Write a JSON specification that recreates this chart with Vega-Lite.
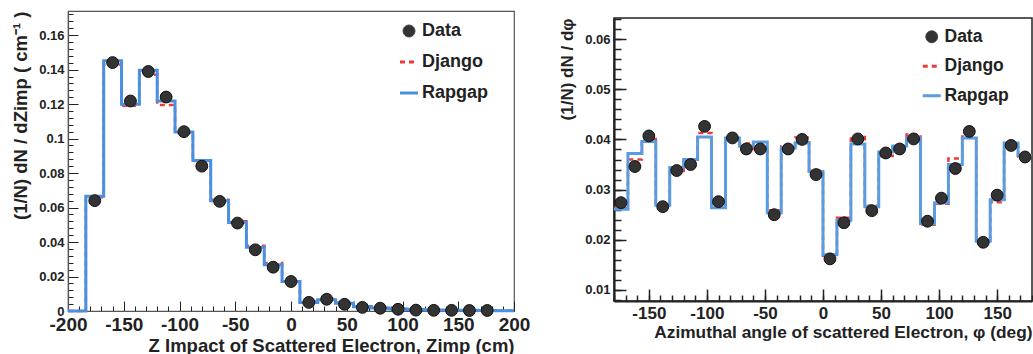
{
  "$schema": "https://vega.github.io/schema/vega-lite/v6.json",
  "padding": {"left": 11, "top": 10, "right": 0, "bottom": 0},
  "config": {
    "font": "Liberation Sans",
    "axis": {"grid": false, "ticks": true, "labelFontWeight": "bold", "titleFontWeight": "bold", "labelColor": "#222", "titleColor": "#222", "domainColor": "#222", "tickColor": "#222", "labelOverlap": false, "labelFlush": false, "labelFont": "Liberation Sans", "titleFont": "Liberation Sans", "zindex": 1},
    "legend": {"labelFont": "Liberation Sans"}
  },
  "spacing": 26,
  "resolve": {"scale": {"color": "independent"}, "legend": {"color": "independent"}},
  "hconcat": [
    {
      "width": 446,
      "height": 300,
      "view": {"stroke": "#555", "strokeWidth": 1.2},
      "resolve": {"axis": {"x": "independent", "y": "independent"}},
      "data": {"values": [
        {"lo": -200, "mid": -192, "Data": null, "Django": 0, "Rapgap": 0},
        {"lo": -184, "mid": -176, "Data": 0.0640, "Django": 0.0660, "Rapgap": 0.0665},
        {"lo": -168, "mid": -160, "Data": 0.1441, "Django": 0.1430, "Rapgap": 0.1451},
        {"lo": -152, "mid": -144, "Data": 0.1218, "Django": 0.1190, "Rapgap": 0.1199},
        {"lo": -136, "mid": -128, "Data": 0.1389, "Django": 0.1370, "Rapgap": 0.1396},
        {"lo": -120, "mid": -112, "Data": 0.1241, "Django": 0.1195, "Rapgap": 0.1218},
        {"lo": -104, "mid": -96, "Data": 0.1040, "Django": 0.1035, "Rapgap": 0.1038},
        {"lo": -88, "mid": -80, "Data": 0.0840, "Django": 0.0870, "Rapgap": 0.0873},
        {"lo": -72, "mid": -64, "Data": 0.0636, "Django": 0.0645, "Rapgap": 0.0640},
        {"lo": -56, "mid": -48, "Data": 0.0510, "Django": 0.0520, "Rapgap": 0.0514},
        {"lo": -40, "mid": -32, "Data": 0.0355, "Django": 0.0378, "Rapgap": 0.0370},
        {"lo": -24, "mid": -16, "Data": 0.0254, "Django": 0.0278, "Rapgap": 0.0268},
        {"lo": -8, "mid": 0, "Data": 0.0171, "Django": 0.0172, "Rapgap": 0.0171},
        {"lo": 8, "mid": 16, "Data": 0.0050, "Django": 0.0055, "Rapgap": 0.0050},
        {"lo": 24, "mid": 32, "Data": 0.0068, "Django": 0.0070, "Rapgap": 0.0065},
        {"lo": 40, "mid": 48, "Data": 0.0039, "Django": 0.0048, "Rapgap": 0.0045},
        {"lo": 56, "mid": 64, "Data": 0.0021, "Django": 0.0028, "Rapgap": 0.0025},
        {"lo": 72, "mid": 80, "Data": 0.0016, "Django": 0.0018, "Rapgap": 0.0018},
        {"lo": 88, "mid": 96, "Data": 0.0010, "Django": 0.0013, "Rapgap": 0.0012},
        {"lo": 104, "mid": 112, "Data": 0.0005, "Django": 0.0009, "Rapgap": 0.0008},
        {"lo": 120, "mid": 128, "Data": 0.0004, "Django": 0.0006, "Rapgap": 0.0006},
        {"lo": 136, "mid": 144, "Data": 0.0004, "Django": 0.0005, "Rapgap": 0.0005},
        {"lo": 152, "mid": 160, "Data": 0.0003, "Django": 0.0004, "Rapgap": 0.0004},
        {"lo": 168, "mid": 176, "Data": 0.0003, "Django": 0.0003, "Rapgap": 0.0003},
        {"lo": 184, "mid": 192, "Data": null, "Django": 0.0002, "Rapgap": 0.0002},
        {"lo": 200, "mid": null, "Data": null, "Django": 0.0002, "Rapgap": 0.0002}
      ]},
      "layer": [
        {"mark": {"type": "line", "interpolate": "step-after", "strokeDash": [5, 4], "strokeWidth": 2.5},
         "encoding": {
           "x": {"field": "lo", "type": "quantitative", "scale": {"domain": [-200, 200], "nice": false, "zero": false},
             "axis": {"orient": "bottom", "title": null, "labels": false, "domain": false, "tickSize": -5, "tickWidth": 1,
               "values": [-200,-190,-180,-170,-160,-150,-140,-130,-120,-110,-100,-90,-80,-70,-60,-50,-40,-30,-20,-10,0,10,20,30,40,50,60,70,80,90,100,110,120,130,140,150,160,170,180,190,200]}},
           "y": {"field": "Django", "type": "quantitative", "scale": {"domain": [0, 0.174], "nice": false, "zero": false},
             "axis": {"orient": "left", "title": null, "labels": false, "domain": false, "tickSize": -5, "tickWidth": 1,
               "values": [0,0.004,0.008,0.012,0.016,0.02,0.024,0.028,0.032,0.036,0.04,0.044,0.048,0.052,0.056,0.06,0.064,0.068,0.072,0.076,0.08,0.084,0.088,0.092,0.096,0.1,0.104,0.108,0.112,0.116,0.12,0.124,0.128,0.132,0.136,0.14,0.144,0.148,0.152,0.156,0.16,0.164,0.168,0.172]}},
           "color": {"datum": "Django", "type": "nominal", "scale": {"domain": ["Data", "Django", "Rapgap"], "range": ["#333333", "#f03a3a", "#4a90e2"]},
             "legend": {"orient": "none", "legendX": 332, "legendY": 11, "title": null, "padding": 0, "labelFontSize": 18, "labelFontWeight": "bold", "labelColor": "#222", "rowPadding": 13, "labelOffset": 4,
               "encode": {"symbols": {"update": {
                 "shape": {"signal": "datum.value === 'Data' ? 'circle' : 'stroke'"},
                 "size": {"signal": "datum.value === 'Data' ? 140 : 324"},
                 "fill": {"signal": "datum.value === 'Data' ? '#333333' : 'transparent'"},
                 "stroke": {"signal": "datum.value === 'Data' ? '#111111' : (datum.value === 'Django' ? '#f03a3a' : '#4a90e2')"},
                 "strokeWidth": {"signal": "datum.value === 'Data' ? 1 : 3"},
                 "strokeDash": {"signal": "datum.value === 'Django' ? [5, 4] : [1, 0]"},
                 "opacity": {"value": 1}
               }}}
             }}}},
        {"mark": {"type": "line", "interpolate": "step-after", "strokeWidth": 3},
         "encoding": {
           "x": {"field": "lo", "type": "quantitative",
             "axis": {"orient": "bottom", "title": "Z Impact of Scattered Electron, Zimp (cm)", "titleFontSize": 18.5, "titleAnchor": "end", "titlePadding": 2,
               "values": [-200, -150, -100, -50, 0, 50, 100, 150, 200], "labelExpr": "'' + datum.value",
               "labelFontSize": 19, "labelPadding": 14, "domainWidth": 1.2, "domainColor": "#555", "tickSize": -10, "tickWidth": 1}},
           "y": {"field": "Rapgap", "type": "quantitative",
             "axis": {"orient": "left", "title": "(1/N) dN / dZimp ( cm⁻¹ )", "titleFontSize": 18.5, "titleAnchor": "end", "titlePadding": 8,
               "values": [0, 0.02, 0.04, 0.06, 0.08, 0.1, 0.12, 0.14, 0.16], "labelExpr": "format(datum.value, '~g')",
               "labelFontSize": 13, "labelPadding": 14, "domainWidth": 1.2, "domainColor": "#555", "tickSize": -10, "tickWidth": 1}},
           "color": {"datum": "Rapgap"}}},
        {"mark": {"type": "point", "filled": true, "size": 140, "opacity": 1, "stroke": "#111", "strokeWidth": 1},
         "transform": [{"filter": "datum.Data != null && datum.mid != null"}],
         "encoding": {"x": {"field": "mid", "type": "quantitative", "axis": null}, "y": {"field": "Data", "type": "quantitative", "axis": null}, "color": {"datum": "Data"}}}
      ]
    },
    {
      "spacing": 5,
      "resolve": {"scale": {"color": "independent"}, "legend": {"color": "independent"}},
      "vconcat": [
        {"width": 418, "height": 1, "view": {"stroke": null}, "data": {"values": []}, "mark": {"type": "point"}},
        {
          "width": 418,
          "height": 283,
          "view": {"stroke": "#222", "strokeWidth": 1.5},
          "resolve": {"axis": {"x": "independent", "y": "independent"}},
          "data": {"values": [
            {"lo": -180, "mid": -174, "Data": 0.0274, "Django": 0.0263, "Rapgap": 0.0261},
            {"lo": -168, "mid": -162, "Data": 0.0346, "Django": 0.0360, "Rapgap": 0.0372},
            {"lo": -156, "mid": -150, "Data": 0.0407, "Django": 0.0401, "Rapgap": 0.0396},
            {"lo": -144, "mid": -138, "Data": 0.0266, "Django": 0.0273, "Rapgap": 0.0269},
            {"lo": -132, "mid": -126, "Data": 0.0338, "Django": 0.0337, "Rapgap": 0.0344},
            {"lo": -120, "mid": -114, "Data": 0.0350, "Django": 0.0356, "Rapgap": 0.0360},
            {"lo": -108, "mid": -102, "Data": 0.0426, "Django": 0.0413, "Rapgap": 0.0405},
            {"lo": -96, "mid": -90, "Data": 0.0276, "Django": 0.0268, "Rapgap": 0.0264},
            {"lo": -84, "mid": -78, "Data": 0.0403, "Django": 0.0399, "Rapgap": 0.0403},
            {"lo": -72, "mid": -66, "Data": 0.0381, "Django": 0.0392, "Rapgap": 0.0387},
            {"lo": -60, "mid": -54, "Data": 0.0381, "Django": 0.0381, "Rapgap": 0.0395},
            {"lo": -48, "mid": -42, "Data": 0.0250, "Django": 0.0259, "Rapgap": 0.0254},
            {"lo": -36, "mid": -30, "Data": 0.0381, "Django": 0.0386, "Rapgap": 0.0383},
            {"lo": -24, "mid": -18, "Data": 0.0400, "Django": 0.0404, "Rapgap": 0.0393},
            {"lo": -12, "mid": -6, "Data": 0.0330, "Django": 0.0338, "Rapgap": 0.0336},
            {"lo": 0, "mid": 6, "Data": 0.0162, "Django": 0.0168, "Rapgap": 0.0170},
            {"lo": 12, "mid": 18, "Data": 0.0234, "Django": 0.0244, "Rapgap": 0.0239},
            {"lo": 24, "mid": 30, "Data": 0.0401, "Django": 0.0405, "Rapgap": 0.0391},
            {"lo": 36, "mid": 42, "Data": 0.0258, "Django": 0.0268, "Rapgap": 0.0266},
            {"lo": 48, "mid": 54, "Data": 0.0373, "Django": 0.0367, "Rapgap": 0.0375},
            {"lo": 60, "mid": 66, "Data": 0.0381, "Django": 0.0384, "Rapgap": 0.0387},
            {"lo": 72, "mid": 78, "Data": 0.0401, "Django": 0.0410, "Rapgap": 0.0403},
            {"lo": 84, "mid": 90, "Data": 0.0237, "Django": 0.0230, "Rapgap": 0.0232},
            {"lo": 96, "mid": 102, "Data": 0.0283, "Django": 0.0272, "Rapgap": 0.0274},
            {"lo": 108, "mid": 114, "Data": 0.0342, "Django": 0.0362, "Rapgap": 0.0350},
            {"lo": 120, "mid": 126, "Data": 0.0416, "Django": 0.0406, "Rapgap": 0.0403},
            {"lo": 132, "mid": 138, "Data": 0.0195, "Django": 0.0199, "Rapgap": 0.0197},
            {"lo": 144, "mid": 150, "Data": 0.0289, "Django": 0.0275, "Rapgap": 0.0280},
            {"lo": 156, "mid": 162, "Data": 0.0388, "Django": 0.0385, "Rapgap": 0.0393},
            {"lo": 168, "mid": 174, "Data": 0.0365, "Django": 0.0366, "Rapgap": 0.0368},
            {"lo": 180, "mid": null, "Data": null, "Django": 0.0366, "Rapgap": 0.0368}
          ]},
          "layer": [
            {"mark": {"type": "line", "interpolate": "step-after", "strokeDash": [5, 4], "strokeWidth": 2.5},
             "encoding": {
               "x": {"field": "lo", "type": "quantitative", "scale": {"domain": [-180, 180], "nice": false, "zero": false},
                 "axis": {"orient": "bottom", "title": null, "labels": false, "domain": false, "tickSize": -6, "tickWidth": 1.5,
                   "values": [-180,-170,-160,-150,-140,-130,-120,-110,-100,-90,-80,-70,-60,-50,-40,-30,-20,-10,0,10,20,30,40,50,60,70,80,90,100,110,120,130,140,150,160,170,180]}},
               "y": {"field": "Django", "type": "quantitative", "scale": {"domain": [0.0078, 0.0642], "nice": false, "zero": false},
                 "axis": {"orient": "left", "title": null, "labels": false, "domain": false, "tickSize": -7, "tickWidth": 1.5,
                   "values": [0.008,0.01,0.012,0.014,0.016,0.018,0.02,0.022,0.024,0.026,0.028,0.03,0.032,0.034,0.036,0.038,0.04,0.042,0.044,0.046,0.048,0.05,0.052,0.054,0.056,0.058,0.06,0.062,0.064]}},
               "color": {"datum": "Django", "type": "nominal", "scale": {"domain": ["Data", "Django", "Rapgap"], "range": ["#333333", "#f03a3a", "#5b9be0"]},
                 "legend": {"orient": "none", "legendX": 309, "legendY": 10, "title": null, "padding": 0, "labelFontSize": 17.5, "labelFontWeight": "bold", "labelColor": "#222", "rowPadding": 10.5, "labelOffset": 4,
                   "encode": {"symbols": {"update": {
                     "shape": {"signal": "datum.value === 'Data' ? 'circle' : 'stroke'"},
                     "size": {"signal": "datum.value === 'Data' ? 140 : 324"},
                     "fill": {"signal": "datum.value === 'Data' ? '#333333' : 'transparent'"},
                     "stroke": {"signal": "datum.value === 'Data' ? '#111111' : (datum.value === 'Django' ? '#f03a3a' : '#5b9be0')"},
                     "strokeWidth": {"signal": "datum.value === 'Data' ? 1 : 3"},
                     "strokeDash": {"signal": "datum.value === 'Django' ? [5, 4] : [1, 0]"},
                     "opacity": {"value": 1}
                   }}}
                 }}}},
            {"mark": {"type": "line", "interpolate": "step-after", "strokeWidth": 3},
             "encoding": {
               "x": {"field": "lo", "type": "quantitative",
                 "axis": {"orient": "bottom", "title": "Azimuthal angle of scattered Electron, φ (deg)", "titleFontSize": 17.3, "titleAnchor": "end", "titlePadding": 2,
                   "values": [-150, -100, -50, 0, 50, 100, 150], "labelExpr": "'' + datum.value",
                   "labelFontSize": 17, "labelPadding": 16, "domainWidth": 2.2, "domainColor": "#222", "tickSize": -12, "tickWidth": 1.5}},
               "y": {"field": "Rapgap", "type": "quantitative",
                 "axis": {"orient": "left", "title": "(1/N) dN / dφ", "titleFontSize": 17, "titleAnchor": "end", "titlePadding": 8,
                   "values": [0.01, 0.02, 0.03, 0.04, 0.05, 0.06], "labelExpr": "format(datum.value, '~g')",
                   "labelFontSize": 13, "labelPadding": 16, "domainWidth": 2.2, "domainColor": "#222", "tickSize": -12, "tickWidth": 1.5}},
               "color": {"datum": "Rapgap"}}},
            {"mark": {"type": "point", "filled": true, "size": 140, "opacity": 1, "stroke": "#111", "strokeWidth": 1},
             "transform": [{"filter": "datum.Data != null && datum.mid != null"}],
             "encoding": {"x": {"field": "mid", "type": "quantitative", "axis": null}, "y": {"field": "Data", "type": "quantitative", "axis": null}, "color": {"datum": "Data"}}}
          ]
        }
      ]
    }
  ]
}
